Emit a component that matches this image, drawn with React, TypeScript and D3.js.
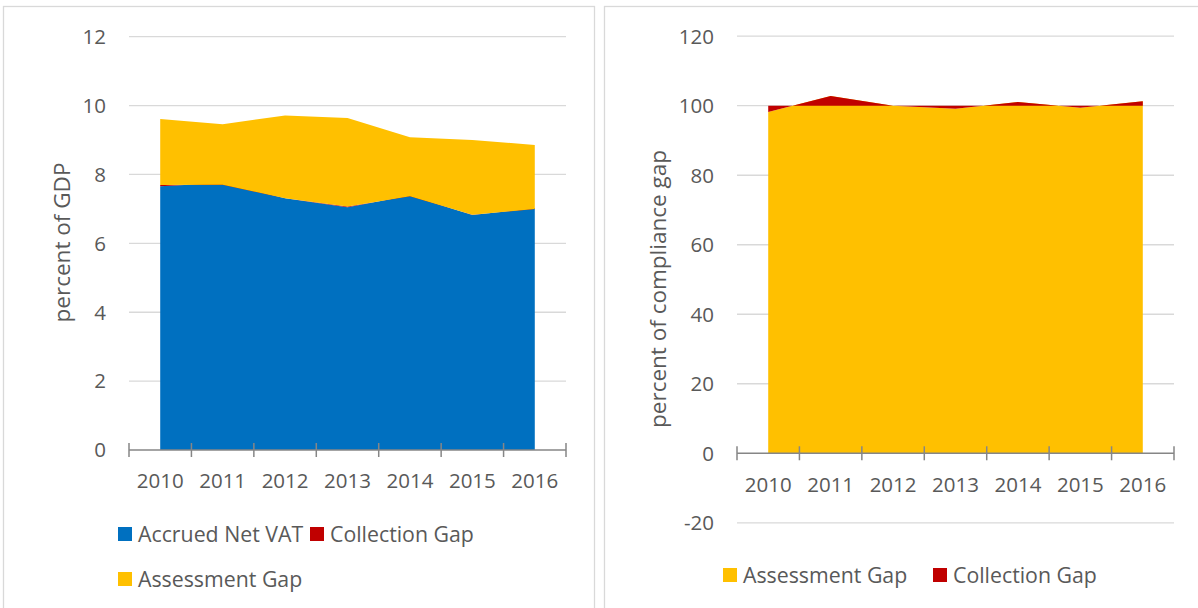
import React, { useEffect, useRef } from 'react';
import * as d3 from 'd3';

// Data
const years = ['2010', '2011', '2012', '2013', '2014', '2015', '2016'];

// Left panel: percent of GDP
const accruedNetVat = [7.66, 7.75, 7.31, 7.05, 7.39, 6.82, 7.02];
const collectionGapGdp = [0.035, -0.049, 0.0, 0.023, -0.019, 0.013, -0.024];
const assessmentGapGdp = [1.915, 1.76, 2.40, 2.57, 1.71, 2.17, 1.86];
const leftTicks = [0, 2, 4, 6, 8, 10, 12];

// Right panel: percent of compliance gap
const assessmentGapPct = [98.2, 102.8, 100.0, 99.1, 101.1, 99.4, 101.3];
const collectionGapPct = [1.8, -2.8, 0.0, 0.9, -1.1, 0.6, -1.3];
const rightTicks = [-20, 0, 20, 40, 60, 80, 100, 120];

const BLUE = '#0070C0';
const RED = '#C00000';
const YELLOW = '#FFC000';
const TEXT = '#595959';
const GRID = '#d9d9d9';
const AXIS = '#868686';
const FONT = '"Open Sans", sans-serif';

interface SeriesDef {
  name: string;
  values: number[];
  color: string;
}

interface PanelDef {
  series: SeriesDef[];
  ticks: number[];
  domain: [number, number];
  xRange: [number, number];
  yRange: [number, number]; // [bottom px, top px]
  yLabelX: number;
  xLabelY: number;
  title: string;
  titleX: number;
  titleY: number;
}

function drawPanel(svg: d3.Selection<SVGSVGElement, unknown, null, undefined>, p: PanelDef) {
  const g = svg.append('g');

  const x = d3.scalePoint<string>().domain(years).range(p.xRange).padding(0.5);
  const y = d3.scaleLinear().domain(p.domain).range(p.yRange);
  const step = x.step();

  // Gridlines (all ticks except zero, which is the axis)
  g.selectAll('line.grid')
    .data(p.ticks.filter((t) => t !== 0))
    .enter()
    .append('line')
    .attr('x1', p.xRange[0])
    .attr('x2', p.xRange[1])
    .attr('y1', (d) => y(d))
    .attr('y2', (d) => y(d))
    .attr('stroke', GRID)
    .attr('stroke-width', 1.3);

  // Stacked areas, Excel-style cumulative stacking
  const rows = years.map((yr, i) => {
    const r: Record<string, number | string> = { year: yr };
    p.series.forEach((s) => (r[s.name] = s.values[i]));
    return r;
  });
  const stack = d3.stack<Record<string, number | string>>()
    .keys(p.series.map((s) => s.name))
    .value((d, k) => d[k] as number)
    .offset(d3.stackOffsetNone);
  const layers = stack(rows);

  const area = d3.area<d3.SeriesPoint<Record<string, number | string>>>()
    .x((d) => x(d.data.year as string) ?? 0)
    .y0((d) => y(d[0]))
    .y1((d) => y(d[1]));

  layers.forEach((layer, i) => {
    g.append('path')
      .datum(layer)
      .attr('fill', p.series[i].color)
      .attr('d', area);
  });

  // Category axis at zero
  const y0 = y(0);
  g.append('line')
    .attr('x1', p.xRange[0])
    .attr('x2', p.xRange[1])
    .attr('y1', y0)
    .attr('y2', y0)
    .attr('stroke', AXIS)
    .attr('stroke-width', 1.5);

  const bounds = years.map((yr) => (x(yr) ?? 0) - step / 2).concat([(x(years[years.length - 1]) ?? 0) + step / 2]);
  g.selectAll('line.tick')
    .data(bounds)
    .enter()
    .append('line')
    .attr('x1', (d) => d)
    .attr('x2', (d) => d)
    .attr('y1', y0 - 7)
    .attr('y2', y0 + 7)
    .attr('stroke', AXIS)
    .attr('stroke-width', 1.5);

  g.selectAll('text.xlab')
    .data(years)
    .enter()
    .append('text')
    .attr('x', (d) => x(d) ?? 0)
    .attr('y', p.xLabelY)
    .attr('text-anchor', 'middle')
    .style('font-family', FONT)
    .style('font-size', '20.5px')
    .style('fill', TEXT)
    .text((d) => d);

  // Value labels
  g.selectAll('text.ylab')
    .data(p.ticks)
    .enter()
    .append('text')
    .attr('x', p.yLabelX)
    .attr('y', (d) => y(d))
    .attr('dy', '0.36em')
    .attr('text-anchor', 'end')
    .style('font-family', FONT)
    .style('font-size', '20.5px')
    .style('fill', TEXT)
    .text((d) => d);

  // Axis title
  g.append('text')
    .attr('transform', `translate(${p.titleX},${p.titleY}) rotate(-90)`)
    .attr('text-anchor', 'middle')
    .attr('dy', '0.36em')
    .style('font-family', FONT)
    .style('font-size', '22.5px')
    .style('fill', TEXT)
    .text(p.title);
}

function drawLegendItem(
  svg: d3.Selection<SVGSVGElement, unknown, null, undefined>,
  x: number,
  y: number,
  color: string,
  label: string,
) {
  svg.append('rect')
    .attr('x', x)
    .attr('y', y - 7)
    .attr('width', 14)
    .attr('height', 14)
    .attr('fill', color);
  svg.append('text')
    .attr('x', x + 20)
    .attr('y', y)
    .attr('dy', '0.36em')
    .style('font-family', FONT)
    .style('font-size', '21.3px')
    .style('fill', TEXT)
    .text(label);
}

const App: React.FC = () => {
  const ref = useRef<SVGSVGElement>(null);

  useEffect(() => {
    if (!ref.current) return;
    const svg = d3.select(ref.current);
    svg.selectAll('*').remove();

    // Panel frames
    svg.append('rect')
      .attr('x', 3.5).attr('y', 6.5).attr('width', 591).attr('height', 640)
      .attr('fill', 'white').attr('stroke', GRID).attr('stroke-width', 1.3);
    svg.append('rect')
      .attr('x', 604.5).attr('y', 6.5).attr('width', 640).attr('height', 640)
      .attr('fill', 'white').attr('stroke', GRID).attr('stroke-width', 1.3);

    drawPanel(svg, {
      series: [
        { name: 'Accrued Net VAT', values: accruedNetVat, color: BLUE },
        { name: 'Collection Gap', values: collectionGapGdp, color: RED },
        { name: 'Assessment Gap', values: assessmentGapGdp, color: YELLOW },
      ],
      ticks: leftTicks,
      domain: [0, 12],
      xRange: [129, 566],
      yRange: [450, 36.7],
      yLabelX: 106,
      xLabelY: 488,
      title: 'percent of GDP',
      titleX: 62,
      titleY: 242.5,
    });

    drawPanel(svg, {
      series: [
        { name: 'Assessment Gap', values: assessmentGapPct, color: YELLOW },
        { name: 'Collection Gap', values: collectionGapPct, color: RED },
      ],
      ticks: rightTicks,
      domain: [-20, 120],
      xRange: [737, 1174],
      yRange: [522.8, 36.2],
      yLabelX: 714,
      xLabelY: 492,
      title: 'percent of compliance gap',
      titleX: 658,
      titleY: 289,
    });

    // Legends
    drawLegendItem(svg, 118, 534, BLUE, 'Accrued Net VAT');
    drawLegendItem(svg, 310, 534, RED, 'Collection Gap');
    drawLegendItem(svg, 118, 579, YELLOW, 'Assessment Gap');
    drawLegendItem(svg, 723, 575, YELLOW, 'Assessment Gap');
    drawLegendItem(svg, 933, 575, RED, 'Collection Gap');
  }, []);

  return (
    <svg
      ref={ref}
      width={1198}
      height={608}
      style={{ position: 'absolute', left: 0, top: 0, display: 'block', background: 'white' }}
    />
  );
};

export default App;
